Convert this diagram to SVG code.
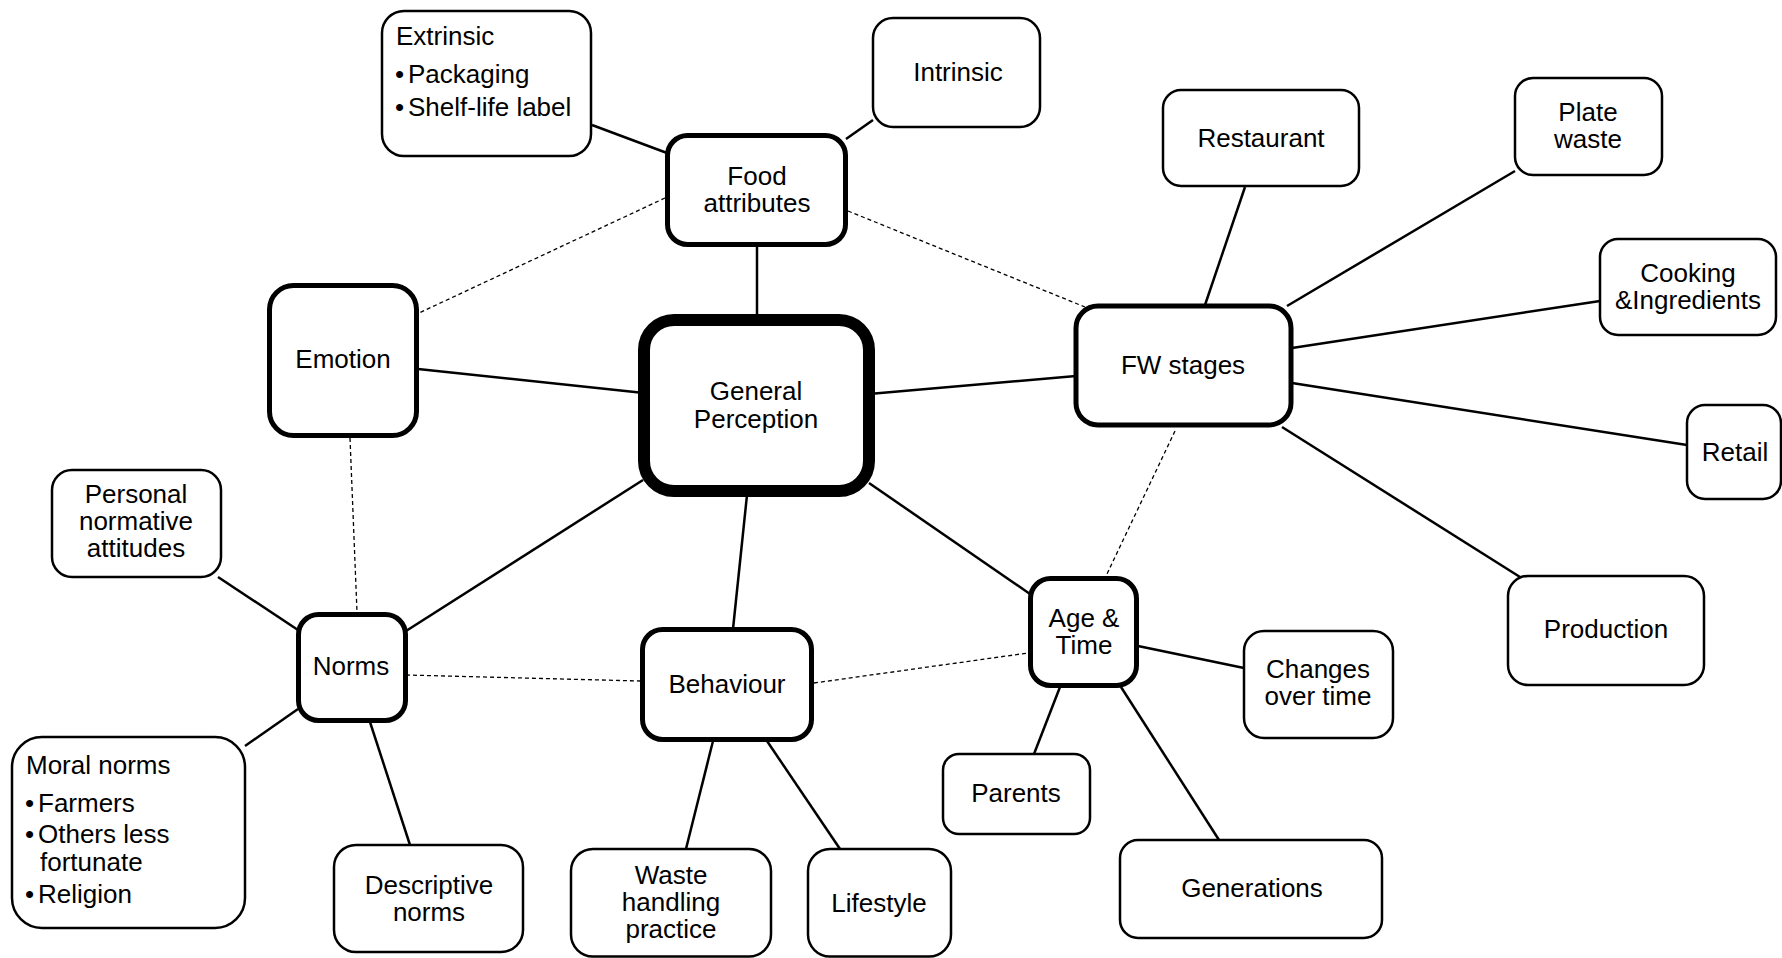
<svg xmlns="http://www.w3.org/2000/svg" width="1782" height="958" viewBox="0 0 1782 958">
  <style>
    .box { fill: #fff; stroke: #000; stroke-width: 2.5; }
    .thick { stroke-width: 5; }
    .hub { stroke-width: 12; }
    .lbl { font-family: "Liberation Sans", Arial, sans-serif; font-size: 26px; fill: #000; }
    .c { text-anchor: middle; }
    .solid { stroke: #000; stroke-width: 2.5; fill: none; }
    .dash { stroke: #000; stroke-width: 1.3; stroke-dasharray: 4 3; fill: none; }
  </style>
  <rect width="1782" height="958" fill="#fff"/>

  <!-- connectors -->
  <g id="connectors">
    <line class="solid" x1="592" y1="125" x2="667" y2="153"/>
    <line class="solid" x1="873" y1="120" x2="846" y2="139"/>
    <line class="solid" x1="757" y1="245" x2="757" y2="318"/>
    <line class="solid" x1="418" y1="369" x2="644" y2="393"/>
    <line class="solid" x1="869" y1="394" x2="1076" y2="376"/>
    <line class="solid" x1="643" y1="480" x2="406" y2="631"/>
    <line class="solid" x1="747" y1="495" x2="733" y2="629"/>
    <line class="solid" x1="869" y1="483" x2="1030" y2="594"/>
    <line class="solid" x1="1245" y1="187" x2="1205" y2="305"/>
    <line class="solid" x1="1515" y1="171" x2="1287" y2="306"/>
    <line class="solid" x1="1600" y1="301" x2="1292" y2="348"/>
    <line class="solid" x1="1292" y1="383" x2="1687" y2="445"/>
    <line class="solid" x1="1282" y1="427" x2="1520" y2="577"/>
    <line class="solid" x1="218" y1="577" x2="298" y2="630"/>
    <line class="solid" x1="298" y1="709" x2="245" y2="746"/>
    <line class="solid" x1="370" y1="722" x2="410" y2="845"/>
    <line class="solid" x1="713" y1="741" x2="686" y2="849"/>
    <line class="solid" x1="767" y1="741" x2="840" y2="849"/>
    <line class="solid" x1="1138" y1="646" x2="1244" y2="668"/>
    <line class="solid" x1="1060" y1="687" x2="1034" y2="754"/>
    <line class="solid" x1="1121" y1="687" x2="1219" y2="840"/>
    <line class="dash" x1="665" y1="198" x2="419" y2="313"/>
    <line class="dash" x1="848" y1="211" x2="1085" y2="307"/>
    <line class="dash" x1="350" y1="438" x2="357" y2="612"/>
    <line class="dash" x1="406" y1="675" x2="640" y2="681"/>
    <line class="dash" x1="814" y1="683" x2="1028" y2="653"/>
    <line class="dash" x1="1175" y1="431" x2="1106" y2="576"/>
  </g>

  <g id="extrinsic">
    <rect class="box" x="382" y="11" width="209" height="145" rx="22"/>
    <text class="lbl" x="396" y="45">Extrinsic</text>
    <text class="lbl" y="83"><tspan x="395">•</tspan><tspan x="408">Packaging</tspan></text>
    <text class="lbl" y="116"><tspan x="395">•</tspan><tspan x="408">Shelf-life label</tspan></text>
  </g>
  <g id="intrinsic">
    <rect class="box" x="873" y="18" width="167" height="109" rx="20"/>
    <text class="lbl c" x="958" y="81">Intrinsic</text>
  </g>
  <g id="food-attributes">
    <rect class="box thick" x="667.5" y="135.5" width="178" height="109" rx="20"/>
    <text class="lbl c" x="757" y="185">Food</text>
    <text class="lbl c" x="757" y="212">attributes</text>
  </g>
  <g id="general-perception">
    <rect class="box hub" x="644" y="320" width="225" height="171" rx="30"/>
    <text class="lbl c" x="756" y="400">General</text>
    <text class="lbl c" x="756" y="428">Perception</text>
  </g>
  <g id="emotion">
    <rect class="box thick" x="269.5" y="285.5" width="147" height="150" rx="24"/>
    <text class="lbl c" x="343" y="368">Emotion</text>
  </g>
  <g id="fw-stages">
    <rect class="box thick" x="1076" y="306" width="215" height="119" rx="22"/>
    <text class="lbl c" x="1183" y="374">FW stages</text>
  </g>
  <g id="restaurant">
    <rect class="box" x="1163" y="90" width="196" height="96" rx="18"/>
    <text class="lbl c" x="1261" y="147">Restaurant</text>
  </g>
  <g id="plate-waste">
    <rect class="box" x="1515" y="78" width="147" height="97" rx="18"/>
    <text class="lbl c" x="1588" y="121">Plate</text>
    <text class="lbl c" x="1588" y="148">waste</text>
  </g>
  <g id="cooking">
    <rect class="box" x="1600" y="239" width="176" height="96" rx="18"/>
    <text class="lbl c" x="1688" y="282">Cooking</text>
    <text class="lbl c" x="1688" y="309">&amp;Ingredients</text>
  </g>
  <g id="retail">
    <rect class="box" x="1687" y="405" width="94" height="94" rx="18"/>
    <text class="lbl c" x="1735" y="461">Retail</text>
  </g>
  <g id="production">
    <rect class="box" x="1508" y="576" width="196" height="109" rx="20"/>
    <text class="lbl c" x="1606" y="638">Production</text>
  </g>
  <g id="personal-normative">
    <rect class="box" x="52" y="470" width="169" height="107" rx="20"/>
    <text class="lbl c" x="136" y="503">Personal</text>
    <text class="lbl c" x="136" y="530">normative</text>
    <text class="lbl c" x="136" y="557">attitudes</text>
  </g>
  <g id="norms">
    <rect class="box thick" x="298.5" y="614.5" width="107" height="106" rx="20"/>
    <text class="lbl c" x="351" y="675">Norms</text>
  </g>
  <g id="moral-norms">
    <rect class="box" x="12" y="737" width="233" height="191" rx="30"/>
    <text class="lbl" x="26" y="774">Moral norms</text>
    <text class="lbl" y="812"><tspan x="25">•</tspan><tspan x="38">Farmers</tspan></text>
    <text class="lbl" y="843"><tspan x="25">•</tspan><tspan x="38">Others less</tspan></text>
    <text class="lbl" x="40" y="871">fortunate</text>
    <text class="lbl" y="903"><tspan x="25">•</tspan><tspan x="38">Religion</tspan></text>
  </g>
  <g id="descriptive-norms">
    <rect class="box" x="334" y="845" width="189" height="107" rx="22"/>
    <text class="lbl c" x="429" y="894">Descriptive</text>
    <text class="lbl c" x="429" y="921">norms</text>
  </g>
  <g id="behaviour">
    <rect class="box thick" x="642.5" y="629.5" width="169" height="110" rx="20"/>
    <text class="lbl c" x="727" y="693">Behaviour</text>
  </g>
  <g id="waste-handling">
    <rect class="box" x="571" y="849" width="200" height="107.5" rx="22"/>
    <text class="lbl c" x="671" y="884">Waste</text>
    <text class="lbl c" x="671" y="911">handling</text>
    <text class="lbl c" x="671" y="938">practice</text>
  </g>
  <g id="lifestyle">
    <rect class="box" x="808" y="849" width="143" height="107.5" rx="22"/>
    <text class="lbl c" x="879" y="912">Lifestyle</text>
  </g>
  <g id="age-time">
    <rect class="box thick" x="1030.5" y="578.5" width="106" height="107" rx="20"/>
    <text class="lbl c" x="1084" y="627">Age &amp;</text>
    <text class="lbl c" x="1084" y="654">Time</text>
  </g>
  <g id="changes-over-time">
    <rect class="box" x="1244" y="631" width="149" height="107" rx="20"/>
    <text class="lbl c" x="1318" y="678">Changes</text>
    <text class="lbl c" x="1318" y="705">over time</text>
  </g>
  <g id="parents">
    <rect class="box" x="943" y="754" width="147" height="80" rx="16"/>
    <text class="lbl c" x="1016" y="802">Parents</text>
  </g>
  <g id="generations">
    <rect class="box" x="1120" y="840" width="262" height="98" rx="18"/>
    <text class="lbl c" x="1252" y="897">Generations</text>
  </g>
</svg>
